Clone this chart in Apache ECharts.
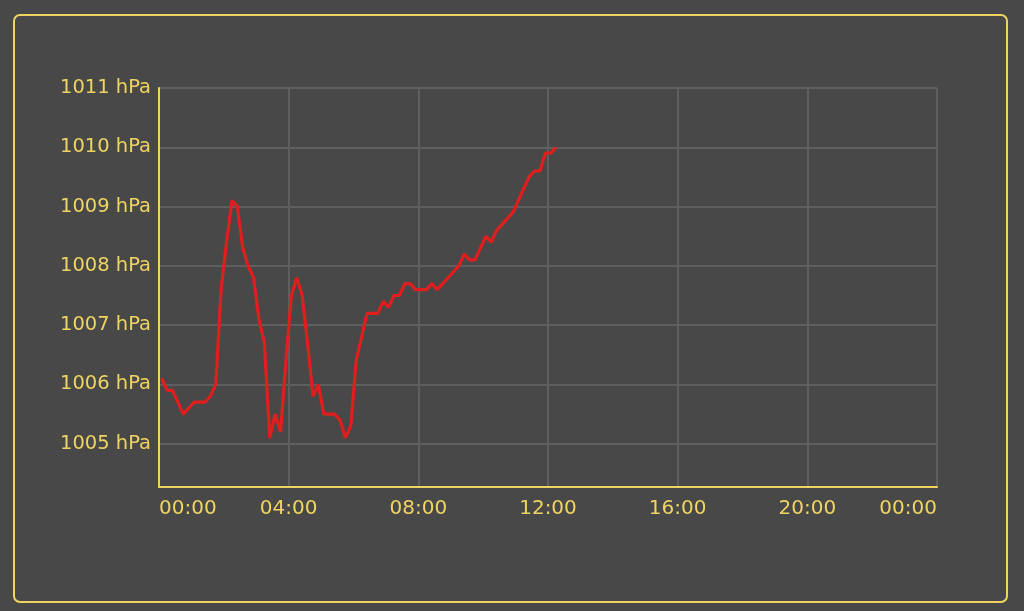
<!DOCTYPE html>
<html>
<head>
<meta charset="utf-8">
<script src="https://cdn.jsdelivr.net/npm/echarts@6/dist/echarts.min.js"></script>
<style>
  html, body { margin: 0; padding: 0; background: #484848; }
  #chart { width: 1024px; height: 611px; }
</style>
</head>
<body>
<div id="chart"></div>
<script>
// readings every 10 minutes
var times = [
  "00:05", "00:15", "00:25", "00:35", "00:45", "00:55",
  "01:05", "01:15", "01:25", "01:35", "01:45", "01:55",
  "02:05", "02:15", "02:25", "02:35", "02:45", "02:55",
  "03:05", "03:15", "03:25", "03:35", "03:45", "03:55",
  "04:05", "04:15", "04:25", "04:35", "04:45", "04:55",
  "05:05", "05:15", "05:25", "05:35", "05:45", "05:55",
  "06:05", "06:15", "06:25", "06:35", "06:45", "06:55",
  "07:05", "07:15", "07:25", "07:35", "07:45", "07:55",
  "08:05", "08:15", "08:25", "08:35", "08:45", "08:55",
  "09:05", "09:15", "09:25", "09:35", "09:45", "09:55",
  "10:05", "10:15", "10:25", "10:35", "10:45", "10:55",
  "11:05", "11:15", "11:25", "11:35", "11:45", "11:55",
  "12:05", "12:15"
];
var pressure = [
  1006.1, 1005.9, 1005.9, 1005.7, 1005.5, 1005.6,
  1005.7, 1005.7, 1005.7, 1005.8, 1006.0, 1007.6,
  1008.4, 1009.1, 1009.0, 1008.3, 1008.0, 1007.8,
  1007.1, 1006.7, 1005.1, 1005.5, 1005.2, 1006.4,
  1007.5, 1007.8, 1007.5, 1006.7, 1005.8, 1006.0,
  1005.5, 1005.5, 1005.5, 1005.4, 1005.1, 1005.3,
  1006.4, 1006.8, 1007.2, 1007.2, 1007.2, 1007.4,
  1007.3, 1007.5, 1007.5, 1007.7, 1007.7, 1007.6,
  1007.6, 1007.6, 1007.7, 1007.6, 1007.7, 1007.8,
  1007.9, 1008.0, 1008.2, 1008.1, 1008.1, 1008.3,
  1008.5, 1008.4, 1008.6, 1008.7, 1008.8, 1008.9,
  1009.1, 1009.3, 1009.5, 1009.6, 1009.6, 1009.9,
  1009.9, 1010.0
];
var hourTicks = [0, 4, 8, 12, 16, 20, 24];

var yellow = "#efd462";
var gridGray = "#5f5f5f";
var font = "Verdana, 'DejaVu Sans', sans-serif";

function toHours(t) {
  var p = t.split(":");
  return parseInt(p[0], 10) + parseInt(p[1], 10) / 60;
}

var points = times.map(function(t, i) {
  return [toHours(t), pressure[i]];
});

var chart = echarts.init(document.getElementById("chart"));
chart.setOption({
  animation: false,
  backgroundColor: "#484848",
  textStyle: { fontFamily: font },
  graphic: [{
    type: "rect",
    shape: { x: 14, y: 15, width: 993, height: 587, r: 6 },
    style: { fill: "none", stroke: yellow, lineWidth: 2 },
    silent: true
  }],
  grid: {
    left: 159,
    right: 87,
    top: 88,
    bottom: 124
  },
  xAxis: {
    type: "value",
    min: hourTicks[0],
    max: hourTicks[hourTicks.length - 1],
    interval: 4,
    axisLine: { show: true, lineStyle: { color: yellow, width: 2 } },
    axisTick: { show: false },
    splitLine: { show: true, lineStyle: { color: gridGray, width: 2 } },
    axisLabel: {
      color: yellow,
      fontSize: 20,
      fontFamily: font,
      margin: 12,
      alignMinLabel: "left",
      alignMaxLabel: "right",
      formatter: function(v) {
        var h = v % 24;
        return (h < 10 ? "0" : "") + h + ":00";
      }
    }
  },
  yAxis: {
    type: "value",
    min: 1004.27,
    max: 1011,
    minInterval: 1,
    maxInterval: 1,
    axisLine: { show: true, lineStyle: { color: yellow, width: 2 } },
    axisTick: { show: false },
    splitLine: { show: true, lineStyle: { color: gridGray, width: 2 } },
    axisLabel: {
      color: yellow,
      fontSize: 19.5,
      fontFamily: font,
      margin: 8,
      showMinLabel: false,
      formatter: function(v) {
        if (Math.abs(v - Math.round(v)) > 0.001) return "";
        return Math.round(v) + " hPa";
      }
    }
  },
  series: [{
    type: "line",
    data: points,
    symbol: "none",
    lineStyle: { color: "#e01e1e", width: 3.2 }
  }]
});
</script>
</body>
</html>
